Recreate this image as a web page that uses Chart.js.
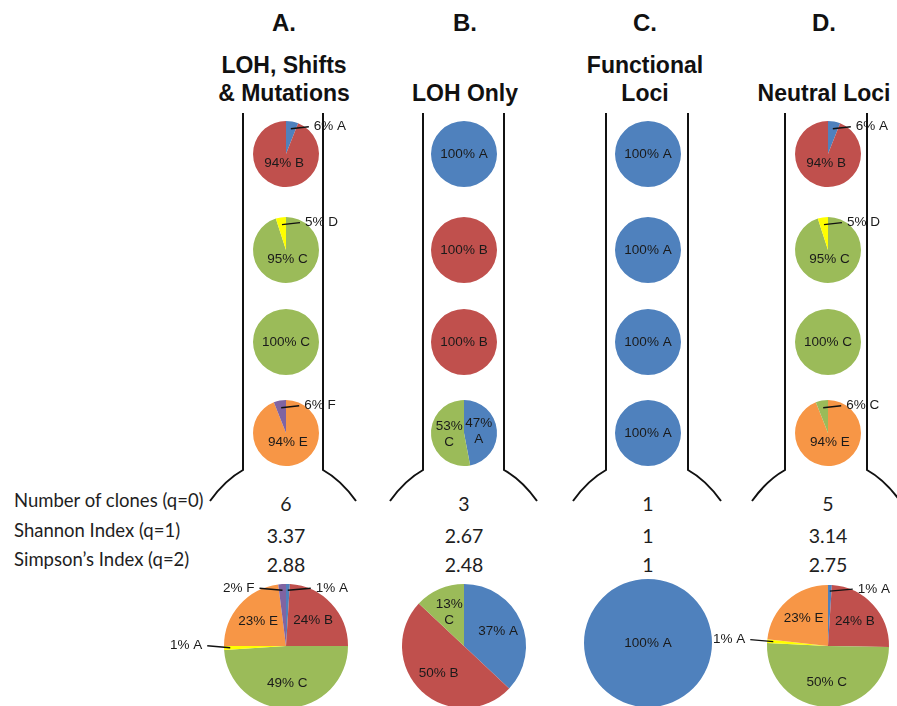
<!DOCTYPE html>
<html>
<head>
<meta charset="utf-8">
<script src="https://cdn.jsdelivr.net/npm/chart.js@4.4.1/dist/chart.umd.min.js"></script>
<style>
html, body { margin: 0; padding: 0; background: #fff; }
#stage { position: relative; width: 897px; height: 706px; overflow: hidden; background: #fff; }
#stage svg { position: absolute; left: 0; top: 0; }
#stage canvas { position: absolute; }
.hd { font-family: "Liberation Sans", Arial, sans-serif; font-weight: bold; fill: #111; }
.ix { font-family: Lato, "Open Sans", sans-serif; fill: #1e1e1e; }
</style>
</head>
<body>
<div id="stage">
  <svg id="frame" width="897" height="706"></svg>
</div>
<script>
// --- данные ---
const panelLetters = ["A.", "B.", "C.", "D."];
const panelTitles = [["LOH, Shifts", "& Mutations"], ["LOH Only"], ["Functional", "Loci"], ["Neutral Loci"]];

const indexNames = ["Number of clones (q=0)", "Shannon Index (q=1)", "Simpson’s Index (q=2)"];
const cloneCounts = ["6", "3", "1", "5"];
const shannonIndex = ["3.37", "2.67", "1", "3.14"];
const simpsonIndex = ["2.88", "2.48", "1", "2.75"];

// маленькие круги сверху вниз, доли по часовой от 12 часов
const tubeALabels = [["A", "B"], ["C", "D"], ["C"], ["E", "F"]];
const tubeAValues = [[6, 94], [95, 5], [100], [94, 6]];
const tubeBLabels = [["A"], ["B"], ["B"], ["A", "C"]];
const tubeBValues = [[100], [100], [100], [47, 53]];
const tubeCLabels = [["A"], ["A"], ["A"], ["A"]];
const tubeCValues = [[100], [100], [100], [100]];
const tubeDLabels = [["A", "B"], ["C", "D"], ["C"], ["E", "C"]];
const tubeDValues = [[6, 94], [95, 5], [100], [94, 6]];

// большие круги внизу (подпись и цвет могут не совпадать, как в оригинале)
const poolALabels = ["A", "B", "C", "A", "E", "F"];
const poolAValues = [1, 24, 49, 1, 23, 2];
const poolAColors = ["A", "B", "C", "D", "E", "F"];
const poolBLabels = ["A", "B", "C"];
const poolBValues = [37, 50, 13];
const poolBColors = ["A", "B", "C"];
const poolCLabels = ["A"];
const poolCValues = [100];
const poolCColors = ["A"];
const poolDLabels = ["A", "B", "C", "A", "E"];
const poolDValues = [1, 24, 50, 1, 23];
const poolDColors = ["A", "B", "C", "D", "E"];

const cloneColors = { A: "#4F81BD", B: "#C0504D", C: "#9BBB59", D: "#FFFF00", E: "#F79646", F: "#8064A2" };

// --- разметка ---
const stage = document.getElementById("stage");
const frame = document.getElementById("frame");
const headX = [284, 465, 645, 824];
const pieX = [286, 464, 648, 828];
const tubeEdges = [[243, 323], [423, 504], [606, 688], [785, 867]];
const smallY = [154, 250, 342, 433];
const smallR = 33;
const bigY = [646, 646, 643, 646];
const bigR = [62, 62, 64, 61];

function svgText(x, y, str, cls, size, anchor) {
    const t = document.createElementNS("http://www.w3.org/2000/svg", "text");
    t.setAttribute("x", x);
    t.setAttribute("y", y);
    t.setAttribute("class", cls);
    t.setAttribute("font-size", size);
    t.setAttribute("text-anchor", anchor || "middle");
    t.textContent = str;
    frame.appendChild(t);
}

// пробирки (колбы)
tubeEdges.forEach(([l, r]) => {
    const p = document.createElementNS("http://www.w3.org/2000/svg", "path");
    p.setAttribute("d",
        `M${l},113 L${l},470 Q${l - 18},480 ${l - 33},501 ` +
        `M${r},113 L${r},470 Q${r + 18},480 ${r + 33},501`);
    p.setAttribute("fill", "none");
    p.setAttribute("stroke", "#111");
    p.setAttribute("stroke-width", "2");
    frame.appendChild(p);
});

// заголовки
panelLetters.forEach((s, i) => svgText(headX[i], 31, s, "hd", 24));
panelTitles.forEach((lines, i) => {
    const base = lines.length === 2 ? 73 : 101;
    lines.forEach((s, j) => svgText(headX[i], base + j * 28, s, "hd", 23));
});

// индексы разнообразия
const labelBase = [507, 537, 566];
const valueBase = [511, 543, 572];
indexNames.forEach((s, i) => svgText(14, labelBase[i], s, "ix", 18.5, "start"));
[cloneCounts, shannonIndex, simpsonIndex].forEach((row, i) => {
    row.forEach((v, j) => svgText(pieX[j], valueBase[i], v, "ix", 19.5));
});

// подписи долей: внутри или выноской
const sliceLabels = {
    id: "sliceLabels",
    afterDatasetsDraw(chart, args, opts) {
        const ctx = chart.ctx;
        const values = chart.data.datasets[0].data;
        const names = chart.data.labels;
        const arcs = chart.getDatasetMeta(0).data;
        const big = opts.big;
        ctx.save();
        ctx.font = '13.5px "Liberation Sans", Arial, sans-serif';
        ctx.fillStyle = "#1a1a1a";
        ctx.strokeStyle = "#111";
        ctx.lineWidth = 1.4;
        ctx.textBaseline = "middle";
        arcs.forEach((arc, i) => {
            const v = values[i];
            const text = `${v}% ${names[i]}`;
            const mid = (arc.startAngle + arc.endAngle) / 2;
            const r = arc.outerRadius;
            const cos = Math.cos(mid), sin = Math.sin(mid);
            if (values.length === 1) {
                ctx.textAlign = "center";
                ctx.fillText(text, arc.x, arc.y);
            } else if (v < 10) {
                const k = big ? 0.9 : 0.78;
                const ax = arc.x + cos * r * k;
                const ay = arc.y + sin * r * k;
                const dir = big && cos < 0 ? -1 : 1;
                const ex = ax + dir * (big ? 23 : 18);
                const ey = ay - 2;
                ctx.beginPath();
                ctx.moveTo(ax, ay);
                ctx.lineTo(ex, ey);
                ctx.stroke();
                ctx.textAlign = dir > 0 ? "left" : "right";
                ctx.fillText(text, ex + dir * 5, ey);
            } else {
                const split = big ? v < 15 : v < 60;
                const k = split ? (big ? 0.6 : 0.45) : (big ? 0.6 : 0.3);
                const lx = arc.x + cos * r * k;
                const ly = arc.y + sin * r * k;
                ctx.textAlign = "center";
                if (split) {
                    ctx.fillText(`${v}%`, lx, ly - 8);
                    ctx.fillText(names[i], lx, ly + 8);
                } else {
                    ctx.fillText(text, lx, ly);
                }
            }
        });
        ctx.restore();
    }
};

function makePie(cx, cy, r, labels, values, colorKeys, big) {
    const w = big ? 300 : 180;
    const h = big ? 150 : 100;
    const cv = document.createElement("canvas");
    cv.width = w;
    cv.height = h;
    cv.style.left = (cx - w / 2) + "px";
    cv.style.top = (cy - h / 2) + "px";
    stage.appendChild(cv);
    new Chart(cv, {
        type: "pie",
        data: {
            labels: labels,
            datasets: [{
                data: values,
                backgroundColor: colorKeys.map(k => cloneColors[k]),
                borderWidth: 0
            }]
        },
        options: {
            responsive: false,
            animation: false,
            events: [],
            radius: r,
            plugins: {
                legend: { display: false },
                tooltip: { enabled: false },
                sliceLabels: { big: big }
            }
        },
        plugins: [sliceLabels]
    });
}

const tubeLabels = [tubeALabels, tubeBLabels, tubeCLabels, tubeDLabels];
const tubeValues = [tubeAValues, tubeBValues, tubeCValues, tubeDValues];
tubeLabels.forEach((col, i) => {
    col.forEach((labels, j) => {
        makePie(pieX[i], smallY[j], smallR, labels, tubeValues[i][j], labels, false);
    });
});

const poolLabels = [poolALabels, poolBLabels, poolCLabels, poolDLabels];
const poolValues = [poolAValues, poolBValues, poolCValues, poolDValues];
const poolColors = [poolAColors, poolBColors, poolCColors, poolDColors];
poolLabels.forEach((labels, i) => {
    makePie(pieX[i], bigY[i], bigR[i], labels, poolValues[i], poolColors[i], true);
});
</script>
</body>
</html>
